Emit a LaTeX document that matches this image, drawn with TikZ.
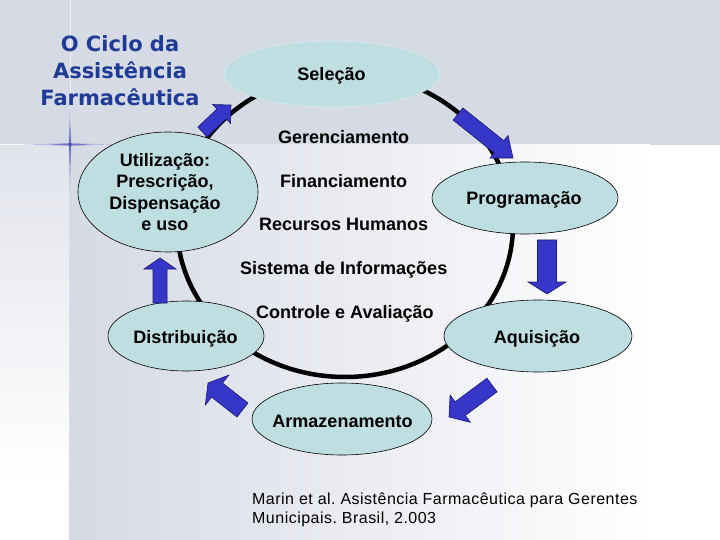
\documentclass[tikz,border=0pt]{standalone}
\usepackage{fontspec}
\setmainfont{Liberation Sans}
\newfontfamily\titlefont{DejaVu Sans}
\newfontfamily\citefont{Liberation Sans}[LetterSpace=3]
\usetikzlibrary{shapes.geometric,calc}
\definecolor{bandgray}{HTML}{D6DAE4}
\definecolor{titleblue}{HTML}{1E3C96}
\definecolor{ellfill}{HTML}{BEDEE2}
\definecolor{arrowblue}{HTML}{3636C8}
\definecolor{arrowedge}{HTML}{1A1A70}
\definecolor{starblue}{HTML}{3030B0}
\newcommand\bluearrow[5]{% tail, tip, half shaft, half head, head length
  \path ($(#2)!#5!(#1)$) coordinate (ab);
  \draw[barrow] ($(#1)!#3!90:(#2)$) -- ($(ab)!#3!90:(#2)$) -- ($(ab)!#4!90:(#2)$) -- (#2)
     -- ($(ab)!#4!-90:(#2)$) -- ($(ab)!#3!-90:(#2)$) -- ($(#1)!#3!-90:(#2)$) -- cycle;}
\frenchspacing
\begin{document}
\begin{tikzpicture}[x=1bp,y=-1bp,
  ell/.style={ellipse, fill=ellfill, draw=black, line width=0.6bp, inner sep=0pt},
  lbl/.style={inner sep=0pt, font=\bfseries\fontsize{18bp}{21.5bp}\selectfont},
  citetext/.style={inner sep=0pt, align=left, font=\citefont\fontsize{16bp}{18.3bp}\selectfont},
  titletext/.style={inner sep=0pt, align=center, text=titleblue, font=\titlefont\bfseries\fontsize{21bp}{27bp}\selectfont},
  ring/.style={line width=4.5bp, black},
  barrow/.style={fill=arrowblue, draw=arrowedge, line width=0.6bp, line join=miter}]
\useasboundingbox (0,0) rectangle (720,540);
% background
\fill[white] (0,0) rectangle (720,540);
\fill[bandgray] (0,0) rectangle (720,145);
\shade[left color=bandgray, right color=white] (69,145) rectangle (650,540);
\shade[top color=bandgray!75!white, bottom color=white] (0,145) rectangle (69,480);
\draw[white, opacity=0.6, line width=1bp] (70,0) -- (70,145);
\draw[white, opacity=0.8, line width=1bp] (0,144.5) -- (105,144.5);
% star
\fill[starblue, opacity=0.3] (25,144.5) -- (70,143.2) -- (112,144.5) -- (70,145.8) -- cycle;
\fill[starblue, opacity=0.3] (70,102) -- (71.3,144.5) -- (70,190) -- (68.7,144.5) -- cycle;
\fill[starblue, opacity=0.5] (50,144.5) -- (70,143.4) -- (90,144.5) -- (70,145.6) -- cycle;
\fill[starblue, opacity=0.5] (70,124) -- (71.1,144.5) -- (70,165) -- (68.9,144.5) -- cycle;
% title
\node[titletext, anchor=base] (title) at (120,106) {O Ciclo da\\Assistência\\Farmacêutica};
% ring
\draw[ring] (345,225) ellipse [x radius=168, y radius=152];
% ellipses
\node[ell, draw=ellfill!60!white, minimum width=216bp, minimum height=66bp] (sel) at (332,74) {};
\node[ell, minimum width=180bp, minimum height=120bp] (uti) at (168,192) {};
\node[ell, minimum width=186bp, minimum height=72bp] (pro) at (525,198) {};
\node[ell, minimum width=188bp, minimum height=72bp] (aqu) at (538,336) {};
\node[ell, minimum width=156bp, minimum height=70bp] (dis) at (186,336) {};
\node[ell, minimum width=180bp, minimum height=72bp] (arm) at (342,419) {};
% arrows
\coordinate (a1t) at (202.5,132); \coordinate (a1h) at (231,105);
\coordinate (a2t) at (458,114);   \coordinate (a2h) at (513,158);
\coordinate (a3t) at (547,240);   \coordinate (a3h) at (547,294);
\coordinate (a4t) at (492,385);   \coordinate (a4h) at (449,417);
\coordinate (a5t) at (242.5,410); \coordinate (a5h) at (208,383);
\coordinate (a6t) at (160,303);   \coordinate (a6h) at (160,258);
\bluearrow{a1t}{a1h}{6.75bp}{13bp}{13bp}
\bluearrow{a2t}{a2h}{7.8bp}{14.5bp}{18bp}
\bluearrow{a3t}{a3h}{9.5bp}{19bp}{12bp}
\bluearrow{a4t}{a4h}{8.5bp}{17bp}{14bp}
\bluearrow{a5t}{a5h}{8.9bp}{19bp}{11.5bp}
\bluearrow{a6t}{a6h}{7bp}{16bp}{11bp}
% labels
\node[lbl, anchor=base] (selT) at (331.5,81) {Seleção};
\node[lbl, anchor=base] (proT) at (524,205) {Programação};
\node[lbl, anchor=base] (aquT) at (537,343) {Aquisição};
\node[lbl, anchor=base] (disT) at (185.5,343) {Distribuição};
\node[lbl, anchor=base] (armT) at (342.5,427) {Armazenamento};
\node[lbl, anchor=base, align=center] (utiT) at (165,231) {Utilização:\\Prescrição,\\Dispensação\\e uso};
\node[lbl, anchor=base west] (ger) at (278,144) {Gerenciamento};
\node[lbl, anchor=base west] (fin) at (280,188) {Financiamento};
\node[lbl, anchor=base west] (rec) at (259,231) {Recursos Humanos};
\node[lbl, anchor=base west] (sis) at (240,275) {Sistema de Informações};
\node[lbl, anchor=base west] (con) at (256,318) {Controle e Avaliação};
\node[citetext, anchor=base west] (cite) at (252,523) {Marin et al. Asistência Farmacêutica para Gerentes\\Municipais. Brasil, 2.003};
\end{tikzpicture}
\end{document}
